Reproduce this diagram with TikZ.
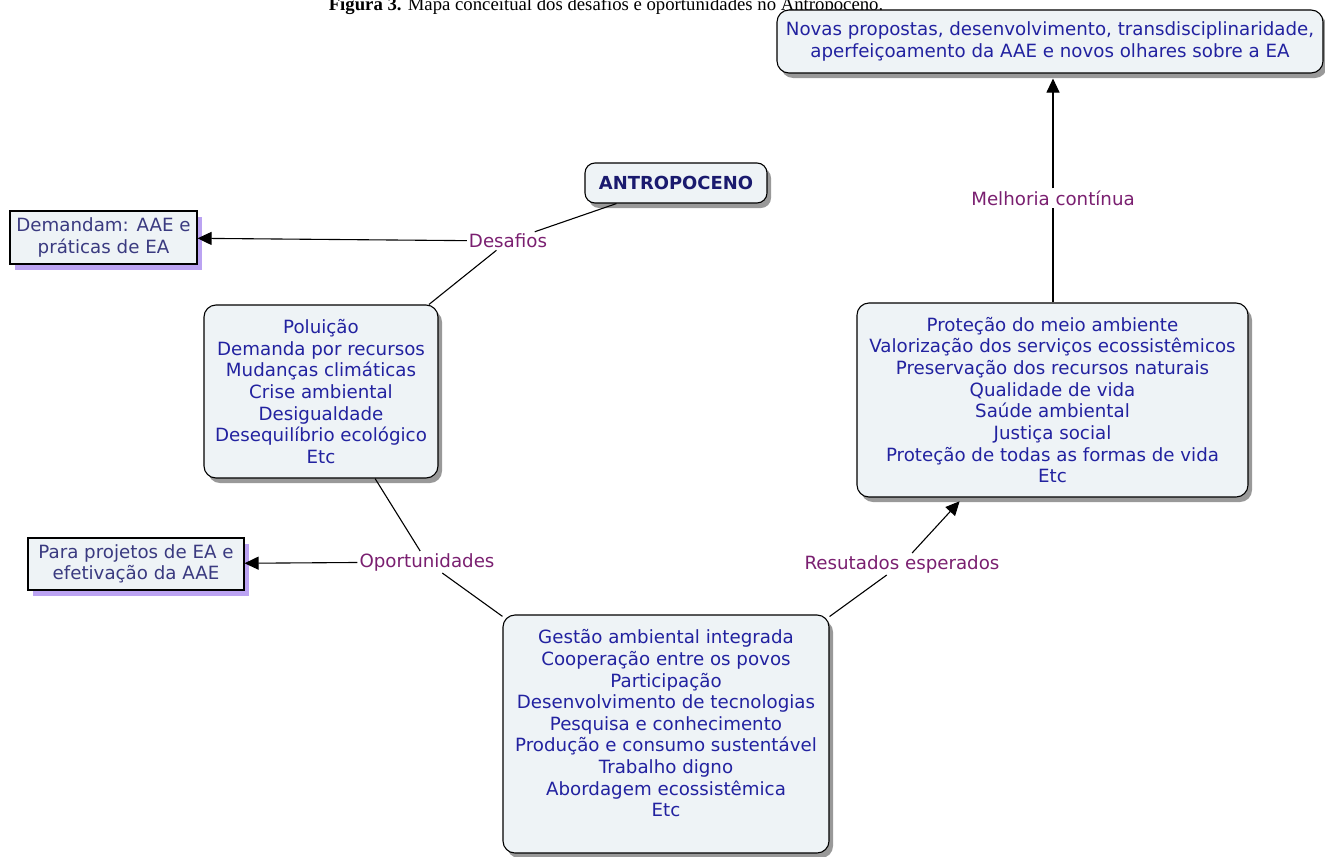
\documentclass[tikz,border=0pt]{standalone}
\usepackage{fontspec}
\setmainfont{DejaVu Sans}
\newfontfamily\capfont{Liberation Serif}
\usetikzlibrary{arrows.meta,shadows}
\definecolor{boxfill}{HTML}{EEF3F6}
\definecolor{txtblue}{HTML}{2222A0}
\definecolor{lnkpurple}{HTML}{7A1F70}
\definecolor{antroblue}{HTML}{1A1A6E}
\definecolor{slate}{HTML}{3A3A80}
\definecolor{lilac}{HTML}{BBA3F2}
\begin{document}
\begin{tikzpicture}[x=1bp,y=-1bp,
  concept/.style={draw, line width=1.1bp, fill=boxfill, rounded corners=12bp, align=center,
    text=txtblue, font=\fontsize{18.3}{21.7}\selectfont, inner sep=0pt,
    drop shadow={shadow xshift=4bp, shadow yshift=-5bp, fill=black!40, opacity=1}},
  side/.style={draw, line width=1.1bp, fill=boxfill, align=center, text=slate,
    font=\fontsize{18.3}{21.7}\selectfont, inner sep=0pt,
    drop shadow={shadow xshift=5bp, shadow yshift=-6bp, fill=lilac, opacity=1}},
  link/.style={text=lnkpurple, font=\fontsize{18.3}{21}\selectfont, inner sep=2bp},
  line/.style={line width=1.1bp},
  arrow/.style={line width=1.1bp, -{Triangle[length=14bp,width=13bp]}}]
\useasboundingbox (0,0) rectangle (1325,856);
% legenda
\node[anchor=base, font=\capfont\fontsize{18.8}{22}\selectfont, inner sep=0pt] (legenda) at (606,10.5)
  {\textbf{Figura 3.} Mapa conceitual dos desafios e oportunidades no Antropoceno.};
% conceitos
\node[concept, rounded corners=10bp, minimum width=182bp, minimum height=40bp, text=antroblue,
  font=\bfseries\fontsize{18}{21}\selectfont] (antro) at (676,183) {ANTROPOCENO};
\node[concept, minimum width=234bp, minimum height=173bp] (problemas) at (321,391.5)
  {Poluição\\Demanda por recursos\\Mudanças climáticas\\Crise ambiental\\Desigualdade\\Desequilíbrio ecológico\\Etc};
\node[concept, minimum width=326bp, minimum height=238bp] (acoes) at (666,734)
  {Gestão ambiental integrada\\Cooperação entre os povos\\Participação\\Desenvolvimento de tecnologias\\Pesquisa e conhecimento\\Produção e consumo sustentável\\Trabalho digno\\Abordagem ecossistêmica\\Etc\\\mbox{}};
\node[concept, minimum width=391bp, minimum height=194bp] (beneficios) at (1052.5,400)
  {Proteção do meio ambiente\\Valorização dos serviços ecossistêmicos\\Preservação dos recursos naturais\\Qualidade de vida\\Saúde ambiental\\Justiça social\\Proteção de todas as formas de vida\\Etc};
\node[concept, minimum width=546bp, minimum height=63bp] (novas) at (1050,41.5)
  {Novas propostas, desenvolvimento, transdisciplinaridade,\\aperfeiçoamento da AAE e novos olhares sobre a EA};
\node[side, minimum width=187bp, minimum height=53bp] (demandam) at (103.5,237.5)
  {Demandam: AAE e\\práticas de EA};
\node[side, minimum width=216bp, minimum height=52bp] (projetos) at (136,564)
  {Para projetos de EA e\\efetivação da AAE};
% frases de ligacao
\node[link] (desafios) at (508,241) {Desafios};
\node[link] (oportun) at (427,562) {Oportunidades};
\node[link] (resultados) at (902,564) {Resutados esperados};
\node[link] (melhoria) at (1053,198) {Melhoria contínua};
% ligacoes
\draw[line] (antro) -- (desafios);
\draw[line] (desafios) -- (problemas);
\draw[arrow] (desafios) -- (demandam);
\draw[line] (problemas) -- (oportun);
\draw[arrow] (oportun) -- (projetos);
\draw[line] (oportun) -- (acoes);
\draw[line] (acoes) -- (resultados);
\draw[arrow, shorten >=5bp] (resultados) -- (beneficios);
\draw[line] (beneficios.north -| melhoria) -- (melhoria);
\draw[arrow, shorten >=5bp] (melhoria) -- (novas.south -| melhoria);
\end{tikzpicture}
\end{document}
